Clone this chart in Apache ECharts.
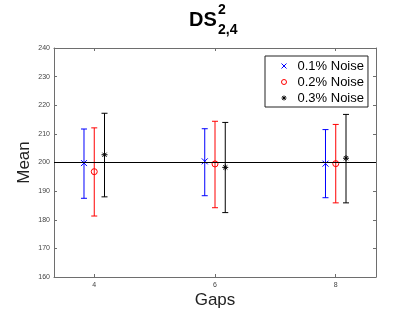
<!DOCTYPE html>
<html><head><meta charset="utf-8">
<script src="https://cdn.jsdelivr.net/npm/echarts@6/dist/echarts.min.js"></script>
<style>html,body{margin:0;padding:0;background:#fff}#c{width:415px;height:312px}</style>
</head><body><div id="c"></div>
<script>
var gaps = [4, 6, 8];
var seriesNames = ['0.1% Noise', '0.2% Noise', '0.3% Noise'];
var mean01 = [199.8, 200.4, 199.6], low01 = [187.5, 188.4, 187.7], high01 = [211.7, 211.8, 211.5];
var mean02 = [196.8, 199.5, 199.6], low02 = [181.3, 184.2, 185.9], high02 = [212.1, 214.4, 213.3];
var mean03 = [202.7, 198.3, 201.5], low03 = [188.0, 182.5, 185.9], high03 = [217.2, 214.0, 216.8];
var refLine = 200;
var yTicks = [160, 170, 180, 190, 200, 210, 220, 230, 240];

var offsets = [-0.17, 0, 0.17];
var colors = ['#0000ff', '#ff0000', '#000000'];
var symbols = ['path://M0,0L10,10M10,0L0,10', 'circle', 'path://M5,0L5,10M0,5L10,5M1.5,1.5L8.5,8.5M8.5,1.5L1.5,8.5'];
var means = [mean01, mean02, mean03], lows = [low01, low02, low03], highs = [high01, high02, high03];
var font = '"Liberation Sans", Arial, Helvetica, sans-serif';
var axisCol = '#6e6e6e';

var series = [];
for (var s = 0; s < 3; s++) {
  var errData = gaps.map(function (g, i) { return [g + offsets[s], lows[s][i], highs[s][i]]; });
  series.push({
    type: 'custom', name: 'err' + s, xAxisIndex: 0, yAxisIndex: 0, silent: true, z: 2,
    data: errData,
    renderItem: (function (col) {
      return function (params, api) {
        var x = api.value(0);
        var p1 = api.coord([x, api.value(1)]);
        var p2 = api.coord([x, api.value(2)]);
        var hw = 3;
        var st = { stroke: col, lineWidth: 1 };
        return { type: 'group', children: [
          { type: 'line', shape: { x1: p1[0], y1: p1[1], x2: p2[0], y2: p2[1] }, style: st },
          { type: 'line', shape: { x1: p1[0] - hw, y1: p1[1], x2: p1[0] + hw, y2: p1[1] }, style: st },
          { type: 'line', shape: { x1: p2[0] - hw, y1: p2[1], x2: p2[0] + hw, y2: p2[1] }, style: st }
        ] };
      };
    })(colors[s])
  });
  series.push({
    type: 'scatter', name: seriesNames[s], z: 3,
    symbol: symbols[s], symbolSize: 6,
    itemStyle: { color: 'rgba(255,255,255,0)', borderColor: colors[s], borderWidth: 1, opacity: 1 },
    data: gaps.map(function (g, i) { return [g + offsets[s], means[s][i]]; })
  });
}
series.push({
  type: 'line', name: 'ref', data: [], z: 1,
  markLine: { silent: true, symbol: 'none', label: { show: false },
    lineStyle: { color: '#000', width: 1, type: 'solid' },
    data: [{ yAxis: refLine }] }
});

var chart = echarts.init(document.getElementById('c'), null, { renderer: 'canvas' });
chart.setOption({
  animation: false,
  backgroundColor: '#fff',
  grid: { left: 54, right: 39, top: 48, bottom: 35, show: false, containLabel: false, outerBoundsMode: 'none' },
  graphic: [
    { type: 'text', left: 189, top: 10, style: { text: 'DS', font: 'bold 20px ' + font, fill: '#000' } },
    { type: 'text', left: 218, top: 3, style: { text: '2', font: 'bold 14px ' + font, fill: '#000' } },
    { type: 'text', left: 218, top: 23, style: { text: '2,4', font: 'bold 14px ' + font, fill: '#000' } }
  ],
  legend: {
    data: seriesNames.map(function (n, i) {
      return { name: n, icon: symbols[i],
        itemStyle: { color: 'rgba(255,255,255,0)', borderColor: colors[i], borderWidth: 1 } };
    }),
    orient: 'vertical', left: 265, top: 56,
    backgroundColor: '#fff', borderColor: '#222', borderWidth: 1,
    padding: [2, 4, 1, 16], itemGap: 0, itemWidth: 5, itemHeight: 5,
    textStyle: { fontFamily: font, fontSize: 13, color: '#000', lineHeight: 16, padding: [0, 0, 0, 6] }
  },
  xAxis: [
    { type: 'value', min: 3.3333, max: 8.6667, position: 'bottom',
      name: 'Gaps', nameLocation: 'middle', nameGap: 15, nameMoveOverlap: false,
      nameTextStyle: { fontFamily: font, fontSize: 17, color: '#222' },
      axisLine: { show: true, lineStyle: { color: axisCol, width: 1 } },
      axisTick: { show: true, inside: true, length: 3, customValues: gaps, lineStyle: { color: axisCol } },
      axisLabel: { customValues: gaps, fontFamily: font, fontSize: 7, color: '#444', margin: 5 },
      splitLine: { show: false } },
    { type: 'value', min: 3.3333, max: 8.6667, position: 'top',
      axisLine: { show: true, lineStyle: { color: axisCol, width: 1 } },
      axisTick: { show: true, inside: true, length: 3, customValues: gaps, lineStyle: { color: axisCol } },
      axisLabel: { show: false }, splitLine: { show: false } }
  ],
  yAxis: [
    { type: 'value', min: 160, max: 240, interval: 10, position: 'left',
      name: 'Mean', nameLocation: 'middle', nameGap: 21, nameMoveOverlap: false,
      nameTextStyle: { fontFamily: font, fontSize: 17, color: '#222' },
      axisLine: { show: true, lineStyle: { color: axisCol, width: 1 } },
      axisTick: { show: true, inside: true, length: 3, lineStyle: { color: axisCol } },
      axisLabel: { fontFamily: font, fontSize: 7, color: '#444', margin: 4,
        formatter: function (v) { return yTicks.indexOf(v) >= 0 ? String(v) : ''; } },
      splitLine: { show: false } },
    { type: 'value', min: 160, max: 240, interval: 10, position: 'right',
      axisLine: { show: true, lineStyle: { color: axisCol, width: 1 } },
      axisTick: { show: true, inside: true, length: 3, lineStyle: { color: axisCol } },
      axisLabel: { show: false }, splitLine: { show: false } }
  ],
  series: series
});
</script></body></html>
